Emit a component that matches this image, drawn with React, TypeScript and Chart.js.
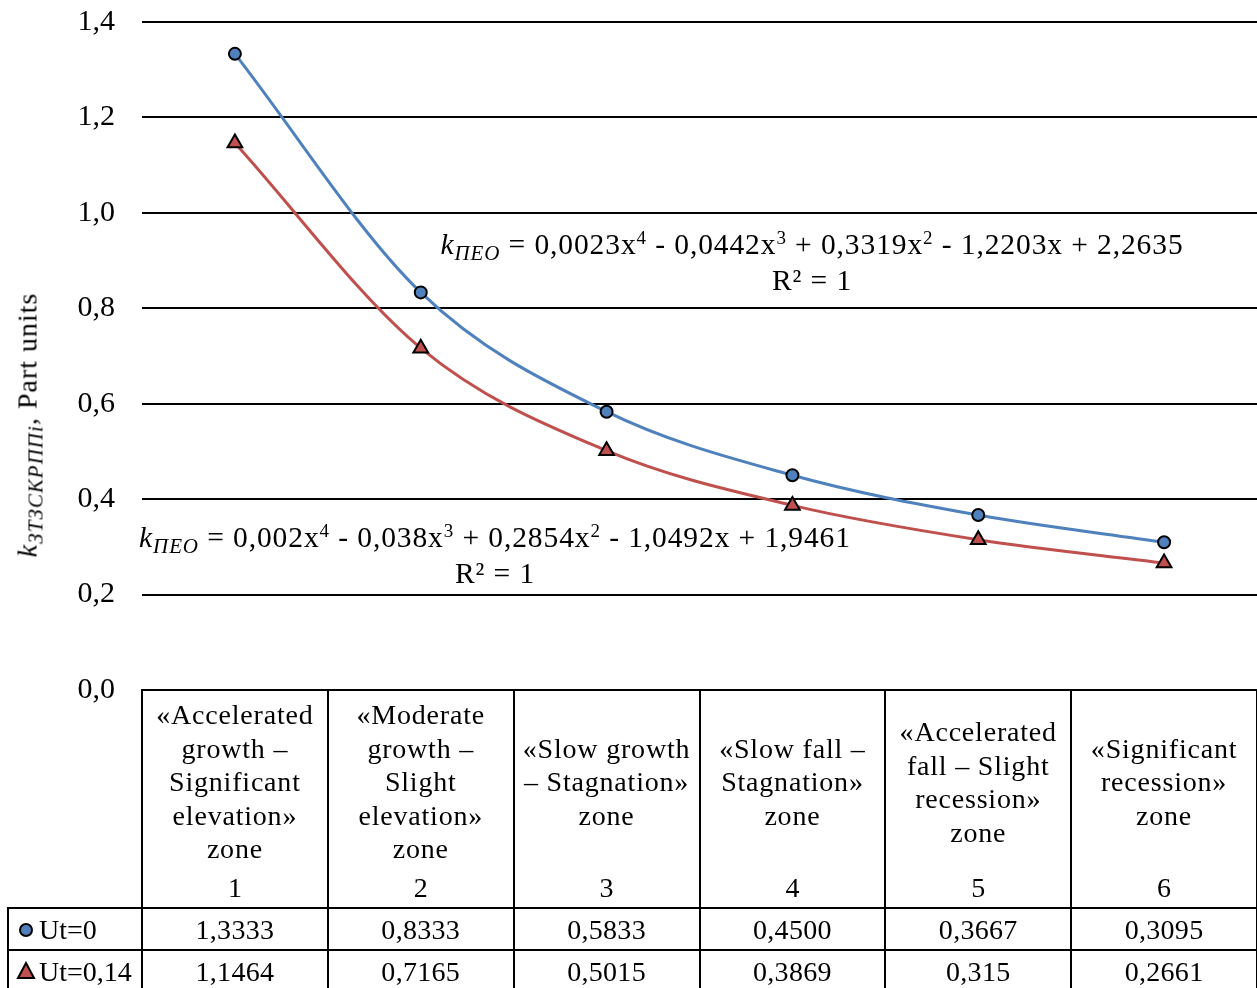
import React, { useEffect, useRef } from "react";
import { Chart, registerables } from "chart.js";

Chart.register(...registerables);

// ---------- data ----------
const zoneNumbers = ["1", "2", "3", "4", "5", "6"];
const zoneNames: string[][] = [
  ["«Accelerated", "growth –", "Significant", "elevation»", "zone"],
  ["«Moderate", "growth –", "Slight", "elevation»", "zone"],
  ["«Slow growth", "– Stagnation»", "zone"],
  ["«Slow fall –", "Stagnation»", "zone"],
  ["«Accelerated", "fall – Slight", "recession»", "zone"],
  ["«Significant", "recession»", "zone"],
];
const ut0Values = [1.3333, 0.8333, 0.5833, 0.45, 0.3667, 0.3095];
const ut014Values = [1.1464, 0.7165, 0.5015, 0.3869, 0.315, 0.2661];
const ut0Labels = ["1,3333", "0,8333", "0,5833", "0,4500", "0,3667", "0,3095"];
const ut014Labels = ["1,1464", "0,7165", "0,5015", "0,3869", "0,315", "0,2661"];
const seriesNames = ["Ut=0", "Ut=0,14"];
const yTicks = [0, 0.2, 0.4, 0.6, 0.8, 1.0, 1.2, 1.4];

const BLUE = "#4F81BD";
const RED = "#C0504D";
const FONT = '"Liberation Serif", "Times New Roman", serif';

// layout
const W = 1257;
const H = 988;
const OFF = 40; // canvas is shifted up by this amount
const AREA_LEFT = 142;
const AREA_TOP = 22;
const AREA_BOTTOM = 690;
const COL_W = (W - AREA_LEFT) / 6;
const HEADER_BOTTOM = 908;
const ROW_H = 42;

export default function App() {
  const canvasRef = useRef<HTMLCanvasElement | null>(null);

  useEffect(() => {
    const canvas = canvasRef.current;
    if (!canvas) return;
    const chart = new Chart(canvas, {
      type: "line",
      data: {
        labels: zoneNumbers,
        datasets: [
          {
            label: seriesNames[0],
            data: ut0Values,
            borderColor: BLUE,
            backgroundColor: BLUE,
            borderWidth: 3,
            cubicInterpolationMode: "monotone",
            pointStyle: "circle",
            pointRadius: 6,
            pointBackgroundColor: BLUE,
            pointBorderColor: "#000",
            pointBorderWidth: 2,
            fill: false,
          },
          {
            label: seriesNames[1],
            data: ut014Values,
            borderColor: RED,
            backgroundColor: RED,
            borderWidth: 3,
            cubicInterpolationMode: "monotone",
            pointStyle: "triangle",
            pointRadius: 8.5,
            pointBackgroundColor: RED,
            pointBorderColor: "#000",
            pointBorderWidth: 2,
            fill: false,
          },
        ],
      },
      options: {
        animation: false,
        responsive: false,
        events: [],
        layout: {
          autoPadding: false,
          padding: { top: AREA_TOP + OFF, right: 0, bottom: H - AREA_BOTTOM, left: 0 },
        },
        plugins: {
          legend: { display: false },
          tooltip: { enabled: false },
          title: { display: false },
        },
        scales: {
          x: { display: false, offset: true },
          y: {
            min: 0,
            max: 1.4,
            afterBuildTicks: (s: any) => {
              s.ticks = yTicks.map((v) => ({ value: v }));
            },
            afterFit: (s: any) => {
              s.width = AREA_LEFT;
            },
            ticks: {
              padding: 27,
              color: "#000",
              font: { family: FONT, size: 30 },
              callback: (v: any) => Number(v).toFixed(1).replace(".", ","),
            },
            grid: { color: "#000", lineWidth: 2, drawTicks: false },
            border: { display: false },
          },
        },
      },
    });
    return () => chart.destroy();
  }, []);

  const cellText: React.CSSProperties = {
    position: "absolute",
    fontFamily: FONT,
    fontSize: 28,
    color: "#000",
    textAlign: "center",
    whiteSpace: "nowrap",
  };

  const lines: React.ReactNode[] = [];
  lines.push(
    <div key="top" style={{ position: "absolute", left: AREA_LEFT, top: AREA_BOTTOM - 1, width: W - AREA_LEFT, height: 2, background: "#000" }} />
  );
  for (let i = 0; i <= 6; i++) {
    const x = Math.round(AREA_LEFT + i * COL_W) - 1;
    lines.push(
      <div key={"v" + i} style={{ position: "absolute", left: x, top: AREA_BOTTOM - 1, width: 2, height: H - AREA_BOTTOM + 10, background: "#000" }} />
    );
  }
  lines.push(
    <div key="vl" style={{ position: "absolute", left: 7, top: HEADER_BOTTOM - 1, width: 2, height: H - HEADER_BOTTOM + 10, background: "#000" }} />
  );
  for (let r = 0; r < 3; r++) {
    const y = HEADER_BOTTOM + r * ROW_H - 1;
    lines.push(
      <div key={"h" + r} style={{ position: "absolute", left: 7, top: y, width: W - 7, height: 2, background: "#000" }} />
    );
  }

  const header = zoneNames.map((name, i) => (
    <div
      key={"zn" + i}
      style={{
        ...cellText,
        left: AREA_LEFT + i * COL_W,
        width: COL_W,
        top: 696,
        height: 172,
        display: "flex",
        alignItems: "center",
        justifyContent: "center",
        lineHeight: "33.5px",
        letterSpacing: "0.8px",
      }}
    >
      <div>
        {name.map((l, k) => (
          <div key={k}>{l}</div>
        ))}
      </div>
    </div>
  ));
  const numbers = zoneNumbers.map((n, i) => (
    <div key={"num" + i} style={{ ...cellText, left: AREA_LEFT + i * COL_W, width: COL_W, top: 870, lineHeight: "36px" }}>
      {n}
    </div>
  ));
  const rows = [ut0Labels, ut014Labels].map((arr, r) =>
    arr.map((t, i) => (
      <div
        key={"c" + r + "-" + i}
        style={{ ...cellText, left: AREA_LEFT + i * COL_W, width: COL_W, top: HEADER_BOTTOM + r * ROW_H + 1, lineHeight: ROW_H + "px", letterSpacing: "0.3px" }}
      >
        {t}
      </div>
    ))
  );

  const legendCells = (
    <>
      <div style={{ position: "absolute", left: 19, top: HEADER_BOTTOM + 15, width: 10, height: 10, borderRadius: "50%", background: BLUE, border: "2px solid #000" }} />
      <div style={{ ...cellText, textAlign: "left", left: 39, top: HEADER_BOTTOM + 1, lineHeight: ROW_H + "px" }}>{seriesNames[0]}</div>
      <svg style={{ position: "absolute", left: 16, top: HEADER_BOTTOM + ROW_H + 11 }} width="20" height="20">
        <polygon points="10,2 18,17 2,17" fill={RED} stroke="#000" strokeWidth="2" />
      </svg>
      <div style={{ ...cellText, textAlign: "left", left: 39, top: HEADER_BOTTOM + ROW_H + 1, lineHeight: ROW_H + "px" }}>{seriesNames[1]}</div>
    </>
  );

  const sub: React.CSSProperties = { fontSize: 21, fontStyle: "italic", verticalAlign: "-6px", lineHeight: 0 };
  const sup: React.CSSProperties = { fontSize: 19, verticalAlign: "10px", lineHeight: 0 };
  const eqStyle: React.CSSProperties = { ...cellText, fontSize: 29.5, width: 1000, lineHeight: "36px", letterSpacing: "0.9px" };

  const eqBlue = (
    <div style={{ ...eqStyle, left: 812 - 500, top: 226 }}>
      <div>
        <i>k</i>
        <span style={sub}>ПЕО</span> = 0,0023x<span style={sup}>4</span> - 0,0442x<span style={sup}>3</span> + 0,3319x
        <span style={sup}>2</span> - 1,2203x + 2,2635
      </div>
      <div>R² = 1</div>
    </div>
  );
  const eqRed = (
    <div style={{ ...eqStyle, left: 495 - 500, top: 519 }}>
      <div>
        <i>k</i>
        <span style={sub}>ПЕО</span> = 0,002x<span style={sup}>4</span> - 0,038x<span style={sup}>3</span> + 0,2854x
        <span style={sup}>2</span> - 1,0492x + 1,9461
      </div>
      <div>R² = 1</div>
    </div>
  );

  const yTitle = (
    <div
      style={{
        ...cellText,
        left: 27,
        top: 425,
        transform: "translate(-50%, -50%) rotate(-90deg)",
        lineHeight: "31px",
        letterSpacing: "1px",
      }}
    >
      <i>k</i>
      <span style={sub}>ЗТЗСКРППі</span>, Part units
    </div>
  );

  return (
    <div style={{ position: "fixed", left: 0, top: 0, width: W, height: H, background: "#fff", overflow: "hidden" }}>
      <canvas
        ref={canvasRef}
        width={W}
        height={H + OFF}
        style={{ position: "absolute", left: 0, top: -OFF, width: W, height: H + OFF }}
      />
      {lines}
      {header}
      {numbers}
      {rows}
      {legendCells}
      {eqBlue}
      {eqRed}
      {yTitle}
    </div>
  );
}
